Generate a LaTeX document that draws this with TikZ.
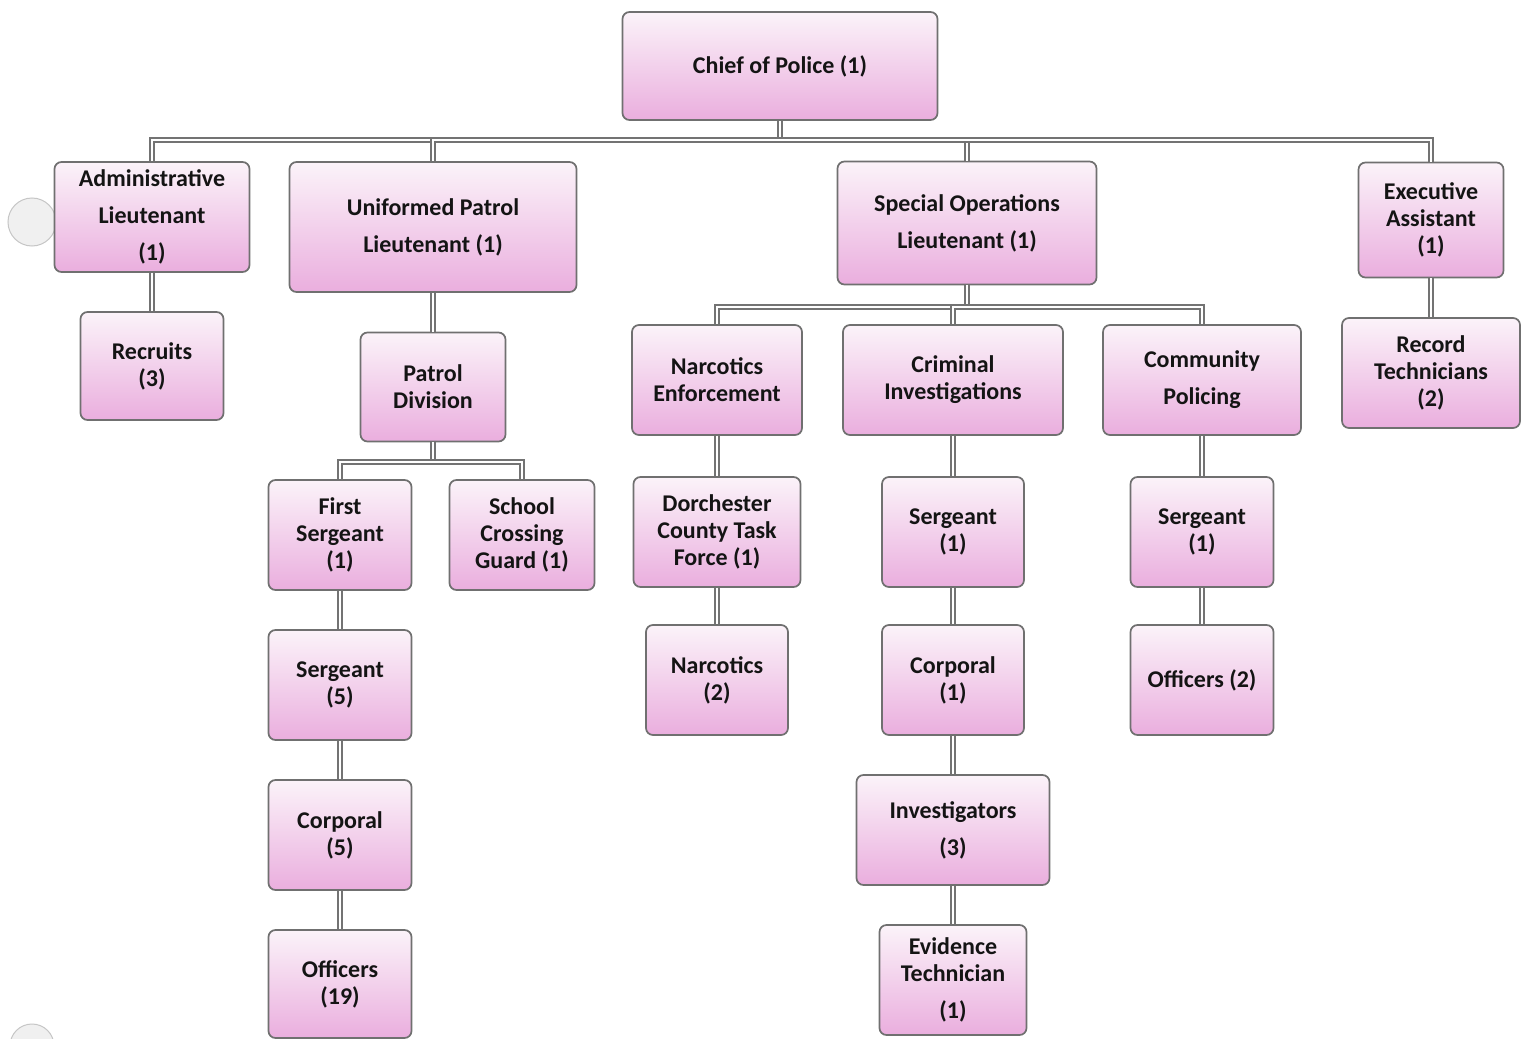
\documentclass[tikz,border=0pt]{standalone}
\usepackage{fontspec}
\setmainfont{Carlito}
\usetikzlibrary{positioning,calc}

\definecolor{boxtop}{HTML}{FBF3F9}
\definecolor{boxbot}{HTML}{EAAEDE}
\definecolor{edgegray}{HTML}{707070}

\begin{document}
\begin{tikzpicture}[x=1pt,y=-1pt,
  post/.style={draw=edgegray, line width=1.7pt, rounded corners=7pt,
    top color=boxtop, bottom color=boxbot, align=center, inner sep=2pt,
    text=black!92, font=\fontsize{24}{27}\selectfont\bfseries},
  link/.style={draw=gray!90!black, line width=1.5pt, double=white, double distance=2.6pt}]
  \useasboundingbox[fill=white] (0,0) rectangle (1530,1038);

  % side marks
  \draw[gray!45, fill=gray!12, line width=1pt] (32,222) circle (24pt);
  \draw[gray!45, fill=gray!12, line width=1pt] (32,1046) circle (22pt);

  % Chief and lieutenants
  \node[post, minimum width=315pt, minimum height=108pt] (chief) at (780,66) {Chief of Police (1)};
  \node[post, minimum width=195pt, minimum height=110pt] (adminlt) at (152,217) {Administrative\\[10pt]Lieutenant\\[10pt](1)};
  \node[post, minimum width=287pt, minimum height=130pt] (patrollt) at (433,227) {Uniformed Patrol\\[10pt]Lieutenant (1)};
  \node[post, minimum width=259pt, minimum height=123pt] (specops) at (967,223) {Special Operations\\[10pt]Lieutenant (1)};
  \node[post, minimum width=145pt, minimum height=115pt] (execasst) at (1431,220) {Executive\\Assistant\\(1)};

  % second row
  \node[post, minimum width=143pt, minimum height=108pt] (recruits) at (152,366) {Recruits\\(3)};
  \node[post, minimum width=145pt, minimum height=109pt] (patroldiv) at (433,387) {Patrol\\Division};
  \node[post, minimum width=170pt, minimum height=110pt] (narcenf) at (717,380) {Narcotics\\Enforcement};
  \node[post, minimum width=220pt, minimum height=110pt] (crimeinv) at (953,380) {Criminal\\Investigations};
  \node[post, minimum width=198pt, minimum height=110pt] (commpol) at (1202,380) {Community\\[10pt]Policing};
  \node[post, minimum width=178pt, minimum height=110pt] (records) at (1431,373) {Record\\Technicians\\(2)};

  % third row
  \node[post, minimum width=143pt, minimum height=110pt] (firstsgt) at (340,535) {First\\Sergeant\\(1)};
  \node[post, minimum width=145pt, minimum height=110pt] (crossing) at (522,535) {School\\Crossing\\Guard (1)};
  \node[post, minimum width=167pt, minimum height=110pt] (taskforce) at (717,532) {Dorchester\\County Task\\Force (1)};
  \node[post, minimum width=142pt, minimum height=110pt] (cisgt) at (953,532) {Sergeant\\(1)};
  \node[post, minimum width=143pt, minimum height=110pt] (cpsgt) at (1202,532) {Sergeant\\(1)};

  % fourth row
  \node[post, minimum width=143pt, minimum height=110pt] (patsgt) at (340,685) {Sergeant\\(5)};
  \node[post, minimum width=142pt, minimum height=110pt] (narcs) at (717,680) {Narcotics\\(2)};
  \node[post, minimum width=142pt, minimum height=110pt] (cicpl) at (953,680) {Corporal\\(1)};
  \node[post, minimum width=143pt, minimum height=110pt] (cpoff) at (1202,680) {Officers (2)};

  % lower rows
  \node[post, minimum width=143pt, minimum height=110pt] (patcpl) at (340,835) {Corporal\\(5)};
  \node[post, minimum width=193pt, minimum height=110pt] (invest) at (953,830) {Investigators\\[10pt](3)};
  \node[post, minimum width=143pt, minimum height=108pt] (patoff) at (340,984) {Officers\\(19)};
  \node[post, minimum width=147pt, minimum height=110pt] (evtech) at (953,980) {Evidence\\Technician\\[10pt](1)};

  % connectors from the chief
  \coordinate (topbus) at (780,140);
  \draw[link] (chief.south) -- (topbus);
  \draw[link] (topbus) -| (adminlt.north);
  \draw[link] (topbus) -| (patrollt.north);
  \draw[link] (topbus) -| (specops.north);
  \draw[link] (topbus) -| (execasst.north);

  % left branches
  \draw[link] (adminlt.south) -- (recruits.north);
  \draw[link] (patrollt.south) -- (patroldiv.north);
  \coordinate (patbus) at (433,462);
  \draw[link] (patroldiv.south) -- (patbus);
  \draw[link] (patbus) -| (firstsgt.north);
  \draw[link] (patbus) -| (crossing.north);
  \draw[link] (firstsgt.south) -- (patsgt.north);
  \draw[link] (patsgt.south) -- (patcpl.north);
  \draw[link] (patcpl.south) -- (patoff.north);

  % special operations branches
  \coordinate (opsbus) at (967,307);
  \draw[link] (specops.south) -- (opsbus);
  \draw[link] (opsbus) -| (narcenf.north);
  \draw[link] (opsbus) -| (crimeinv.north);
  \draw[link] (opsbus) -| (commpol.north);
  \draw[link] (narcenf.south) -- (taskforce.north);
  \draw[link] (taskforce.south) -- (narcs.north);
  \draw[link] (crimeinv.south) -- (cisgt.north);
  \draw[link] (cisgt.south) -- (cicpl.north);
  \draw[link] (cicpl.south) -- (invest.north);
  \draw[link] (invest.south) -- (evtech.north);
  \draw[link] (commpol.south) -- (cpsgt.north);
  \draw[link] (cpsgt.south) -- (cpoff.north);

  % executive assistant
  \draw[link] (execasst.south) -- (records.north);
\end{tikzpicture}
\end{document}
